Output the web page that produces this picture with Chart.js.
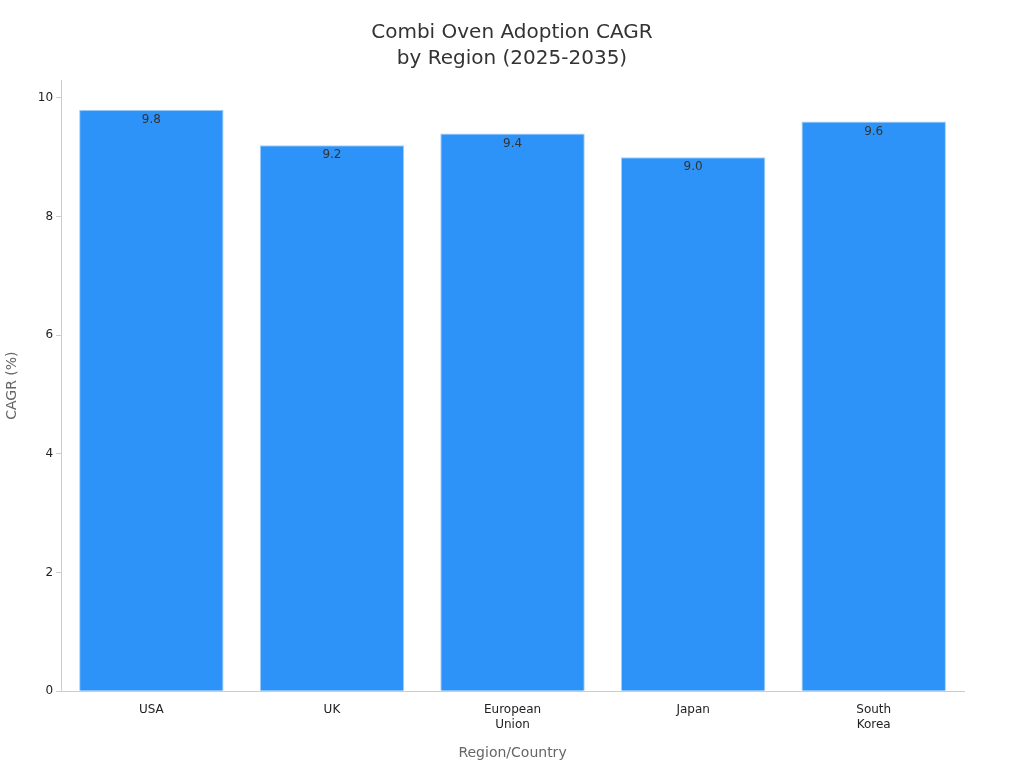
<!DOCTYPE html>
<html>
<head>
<meta charset="utf-8">
<script src="https://cdn.jsdelivr.net/npm/chart.js@4"></script>
<style>
  body { margin: 0; background: #fff; }
  #wrap { width: 1024px; height: 768px; }
</style>
</head>
<body>
<div id="wrap"><canvas id="myChart" width="1024" height="768"></canvas></div>
<script>
// donnees du graphique
const regions = [["USA"], ["UK"], ["European", "Union"], ["Japan"], ["South", "Korea"]];
const cagr = [9.8, 9.2, 9.4, 9.0, 9.6];
const titleLines = ["Combi Oven Adoption CAGR", "by Region (2025-2035)"];

// etiquettes des valeurs dans les barres + titre centre sur la page
const valueLabels = {
  id: "valueLabels",
  afterDatasetsDraw(chart) {
    const ctx = chart.ctx;
    const meta = chart.getDatasetMeta(0);
    ctx.save();
    ctx.font = "12px 'DejaVu Sans'";
    ctx.fillStyle = "#333";
    ctx.textAlign = "center";
    ctx.textBaseline = "middle";
    meta.data.forEach((bar, i) => {
      ctx.fillText(cagr[i].toFixed(1), bar.x, bar.y + 10);
    });
    ctx.font = "20px 'DejaVu Sans'";
    ctx.fillText(titleLines[0], chart.width / 2, 33);
    ctx.fillText(titleLines[1], chart.width / 2, 59);
    ctx.restore();
  },
};

const config = {
  type: "bar",
  data: {
    labels: regions,
    datasets: [{
      data: cagr,
      backgroundColor: "#2E93F8",
      borderColor: "#A9CFF5",
      borderWidth: 1,
      barPercentage: 0.8,
      categoryPercentage: 1.0,
    }],
  },
  options: {
    responsive: false,
    animation: false,
    layout: { padding: { left: 0, right: 60, top: 80, bottom: 2 } },
    plugins: {
      legend: false,
      tooltip: { enabled: false },
    },
    scales: {
      x: {
        grid: { drawOnChartArea: false, drawTicks: false, color: "#ccc" },
        border: { color: "#ccc" },
        ticks: { font: { family: "'DejaVu Sans'", size: 12, lineHeight: 1.25 }, color: "#222", padding: 11 },
        title: { display: true, text: "Region/Country", font: { family: "'DejaVu Sans'", size: 14 }, color: "#666", padding: { top: 2 } },
      },
      y: {
        min: 0,
        max: 10.3,
        afterBuildTicks(axis) {
          axis.ticks = [0, 2, 4, 6, 8, 10].map(v => ({ value: v }));
        },
        grid: { drawOnChartArea: false, drawTicks: true, tickLength: 5, color: "#ccc" },
        border: { color: "#ccc" },
        ticks: { font: { family: "'DejaVu Sans'", size: 12 }, color: "#222", padding: 3 },
        title: { display: true, text: "CAGR (%)", font: { family: "'DejaVu Sans'", size: 14 }, color: "#666", padding: { bottom: 14 } },
      },
    },
  },
  plugins: [valueLabels],
};

let context = document.getElementById("myChart").getContext("2d");
let chart = new Chart(context, config);
</script>
</body>
</html>
